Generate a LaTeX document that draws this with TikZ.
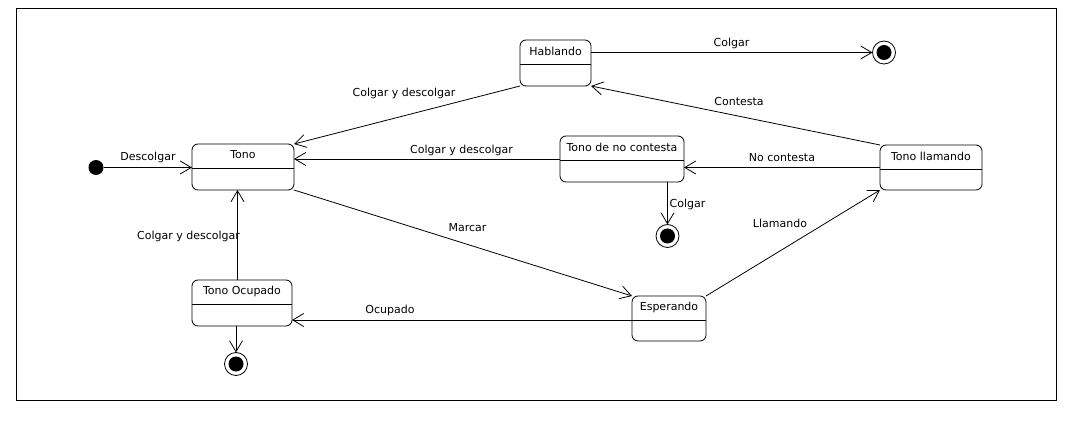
\documentclass[tikz,border=0pt]{standalone}
\usepackage{fontspec}
\setmainfont{DejaVu Sans}
\usetikzlibrary{arrows.meta}
\tikzset{
  statebox/.style={draw, rounded corners=6pt, line width=0.8pt, inner sep=0pt, outer sep=0pt},
  lbl/.style={font=\fontsize{11}{13}\selectfont, inner sep=0pt},
  tr/.style={line width=0.8pt, -{Straight Barb[length=11pt,width=13pt]}},
  initst/.style={circle, fill=black, minimum size=15pt, inner sep=0pt, outer sep=0pt},
  finalst/.style={circle, draw, line width=0.8pt, minimum size=23pt, inner sep=0pt, outer sep=0pt,
    path picture={\fill (path picture bounding box.center) circle (7.5pt);}}
}
\newcommand\mkstate[6]{%
  \node[statebox, minimum width=#4pt, minimum height=#5pt] (#1) at (#2,#3) {};
  \draw[line width=0.8pt] ([yshift=-24pt]#1.north west) -- ([yshift=-24pt]#1.north east);
  \node[lbl] (#1-lbl) at ([yshift=-11pt]#1.north) {#6};
}
\begin{document}
\begin{tikzpicture}[x=1pt,y=-1pt]
\useasboundingbox (0,0) rectangle (1078,430);
\draw[line width=0.8pt] (16,8) rectangle (1056,400);

\mkstate{tono}{243}{167}{102}{46}{Tono}
\mkstate{habl}{555.5}{63}{71}{46}{Hablando}
\mkstate{nocont}{622}{159}{124}{46}{Tono de no contesta}
\mkstate{llam}{931}{167.5}{102}{45}{Tono llamando}
\mkstate{esp}{669}{318.5}{74}{45}{Esperando}
\mkstate{ocup}{242}{303}{100}{46}{Tono Ocupado}

\node[initst] (init) at (96,167.5) {};
\node[finalst] (f1) at (884,52.5) {};
\node[finalst] (f2) at (667.5,236) {};
\node[finalst] (f3) at (236,364) {};

\draw[tr] (init) -- (init -| tono.west);
\draw[tr] (habl.east |- f1.center) -- (f1);
\draw[tr] (habl.south west) -- (tono.north east);
\draw[tr] (llam.north west) -- (habl.south east);
\draw[tr] (nocont.west) -- (nocont.west -| tono.east);
\draw[tr] (llam.west) -- (llam.west -| nocont.east);
\draw[tr] (f2 |- nocont.south) -- (f2);
\draw[tr] (tono.south east) -- (esp.north west);
\draw[tr] (esp.north east) -- (llam.south west);
\draw[tr] ([yshift=-1.5pt]esp.west) -- ([yshift=-1.5pt]esp.west -| ocup.east);
\draw[tr] ([xshift=-4.5pt]ocup.north) -- ([xshift=-4.5pt]ocup.north |- tono.south);
\draw[tr] (f3 |- ocup.south) -- (f3);

\node[lbl] (l1) at (148,157) {Descolgar};
\node[lbl] (l2) at (731.5,43) {Colgar};
\node[lbl] (l3) at (404,93) {Colgar y descolgar};
\node[lbl] (l4) at (739,101.5) {Contesta};
\node[lbl] (l5) at (461.5,150) {Colgar y descolgar};
\node[lbl] (l6) at (782,157.5) {No contesta};
\node[lbl] (l7) at (687.5,204) {Colgar};
\node[lbl] (l8) at (467.5,228) {Marcar};
\node[lbl] (l9) at (780,223) {Llamando};
\node[lbl] (l10) at (390,310) {Ocupado};
\node[lbl] (l11) at (188.5,236) {Colgar y descolgar};
\end{tikzpicture}
\end{document}
